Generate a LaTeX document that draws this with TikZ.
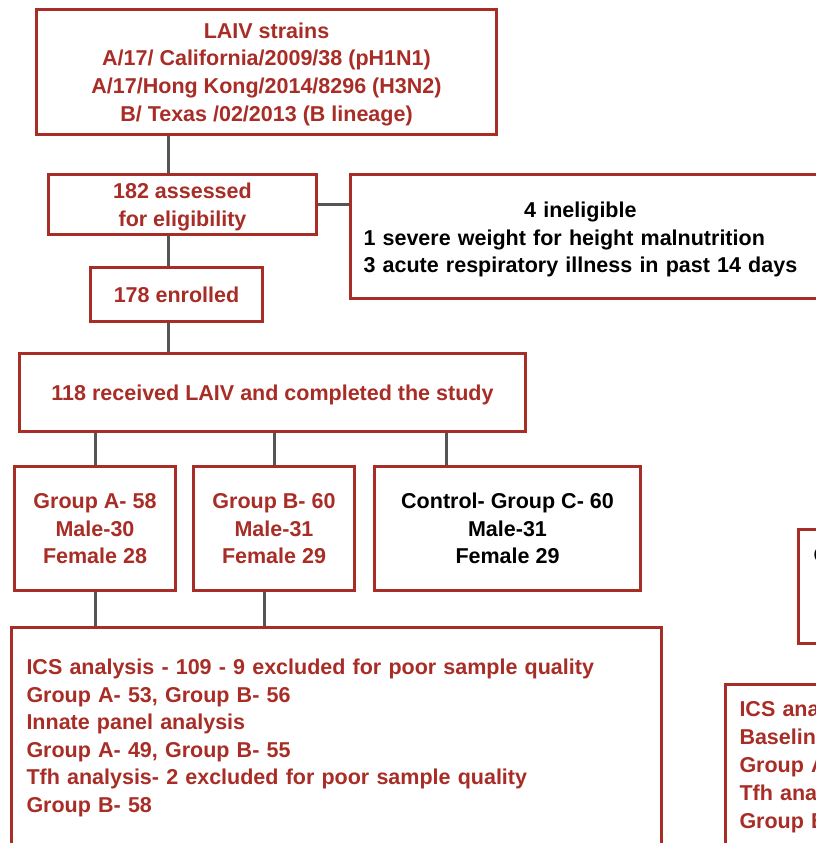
\documentclass[tikz,border=0pt]{standalone}
\usepackage{fontspec}
\setmainfont{Liberation Sans}
\definecolor{laivred}{RGB}{168,45,38}
\definecolor{linkgray}{RGB}{85,85,85}

\begin{document}
\begin{tikzpicture}[x=1pt, y=-1pt,
    box/.style={draw=laivred, line width=3pt, fill=white, text=laivred, align=center,
        inner sep=0pt, text depth=0pt, font=\bfseries\fontsize{21.5}{27.6}\selectfont},
    link/.style={draw=linkgray, line width=3pt}]
    \useasboundingbox (0,0) rectangle (816,843);
    \clip (0,0) rectangle (816,843);

    \node[box, minimum width=460pt, minimum height=125pt] (strains) at (266.5,72)
        {LAIV strains\\A/17/ California/2009/38 (pH1N1)\\A/17/Hong Kong/2014/8296 (H3N2)\\B/ Texas /02/2013 (B lineage)};
    \node[box, minimum width=268pt, minimum height=60pt] (assessed) at (182.5,204.5)
        {182 assessed\\for eligibility};
    \node[box, anchor=west, text=black, align=left, text width=480pt, inner xsep=13.5pt,
        minimum height=124pt, text depth=] (ineligible) at (348.5,236.5)
        {\raisebox{-3pt}[\height][\depth]{\begin{tabular}{@{}l@{}}\multicolumn{1}{c}{4 ineligible}\\
        1 severe weight for height malnutrition\\
        3 acute respiratory illness in past 14 days\end{tabular}}};
    \node[box, minimum width=172pt, minimum height=54pt] (enrolled) at (176.5,294.5)
        {178 enrolled};
    \node[box, minimum width=506pt, minimum height=78pt] (received) at (272.5,392.5)
        {118 received LAIV and completed the study};
    \node[box, minimum width=161pt, minimum height=124pt] (groupA) at (95,528.5)
        {Group A- 58\\Male-30\\Female 28};
    \node[box, minimum width=161pt, minimum height=124pt] (groupB) at (274,528.5)
        {Group B- 60\\Male-31\\Female 29};
    \node[box, text=black, minimum width=266pt, minimum height=124pt] (control) at (507.5,528.5)
        {Control- Group C- 60\\Male-31\\Female 29};
    \node[box, anchor=north west, align=left, text width=619pt, inner xsep=15.5pt,
        inner ysep=32pt, text depth=] (analysis) at (9.5,625.5)
        {ICS analysis - 109 - 9 excluded for poor sample quality\\
        Group A- 53, Group B- 56\\
        Innate panel analysis\\
        Group A- 49, Group B- 55\\
        Tfh analysis- 2 excluded for poor sample quality\\
        Group B- 58};

    % cut off at the right edge
    \node[box, anchor=west, text=black, align=left, text width=200pt, inner xsep=15.5pt,
        minimum height=114pt, text depth=] (control2) at (796.5,586.5)
        {C\\\strut\\\strut};
    \node[box, anchor=north west, align=left, text width=200pt, inner xsep=14.5pt,
        inner ysep=17pt, text depth=, font=\bfseries\fontsize{21.5}{28}\selectfont] (analysis2) at (723.5,682.5)
        {ICS analysis\\Baseline\\Group A\\Tfh analysis\\Group B};

    \coordinate (spine) at (168,0);
    \coordinate (ctrldrop) at (446,0);
    \coordinate (bdrop) at (264,0);

    \draw[link] (strains.south -| spine) -- (assessed.north -| spine);
    \draw[link] (assessed.south -| spine) -- (enrolled.north -| spine);
    \draw[link] (enrolled.south -| spine) -- (received.north -| spine);
    \draw[link] (assessed.east) -- (ineligible.west |- assessed.east);
    \draw[link] (received.south -| groupA) -- (groupA.north);
    \draw[link] (received.south -| groupB) -- (groupB.north);
    \draw[link] (received.south -| ctrldrop) -- (control.north -| ctrldrop);
    \draw[link] (groupA.south) -- (analysis.north -| groupA);
    \draw[link] (groupB.south -| bdrop) -- (analysis.north -| bdrop);
\end{tikzpicture}
\end{document}
